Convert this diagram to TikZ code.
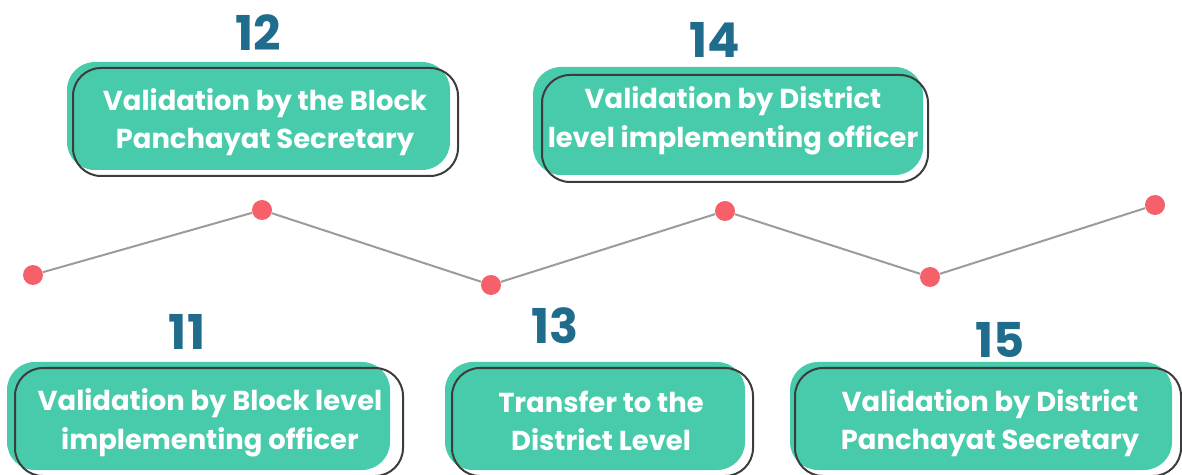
\documentclass[tikz,border=0pt]{standalone}
\usepackage{fontspec}
\setmainfont{Poppins}
\definecolor{teal}{RGB}{72,203,170}
\definecolor{numblue}{RGB}{31,108,140}
\definecolor{dotred}{RGB}{245,96,106}
\definecolor{outl}{RGB}{60,60,60}
\definecolor{linegray}{RGB}{155,155,155}
\begin{document}
\begin{tikzpicture}[x=0.5pt,y=-0.5pt,
  fillbox/.style={fill=teal,rounded corners=14pt},
  outbox/.style={draw=outl,line width=1pt,rounded corners=14pt},
  boxtext/.style={text=white,font=\bfseries\fontsize{13.7}{19.3}\selectfont,align=center,inner sep=0pt},
  num/.style={text=numblue,font=\bfseries\fontsize{24}{24}\selectfont,inner sep=0pt},
  dot/.style={circle,fill=dotred,minimum size=10pt,inner sep=0pt},
  conn/.style={draw=linegray,line width=1pt}]
\useasboundingbox (0,0) rectangle (1182,475);
% boxes
\path[fillbox] (67,62) rectangle (450,170);
\path[outbox] (73,68) rectangle (458,176);
\node[boxtext] (t12) at (265,122) {Validation by the Block\\Panchayat Secretary};
\node[num] (n12) at (258,33) {12};

\path[fillbox] (533,67) rectangle (923,175);
\path[outbox] (542,75) rectangle (928,182);
\node[boxtext] (t14) at (733,121) {Validation by District\\level implementing officer};
\node[num] (n14) at (715,40) {14};

\path[fillbox] (7,362) rectangle (390,470);
\path[outbox] (15,368) rectangle (403,476);
\node[boxtext] (t11) at (210,423) {Validation by Block level\\implementing officer};
\node[num] (n11) at (187,332) {11};

\path[fillbox] (445,362) rectangle (745,470);
\path[outbox] (452,368) rectangle (753,476);
\node[boxtext] (t13) at (601,421) {Transfer to the\\District Level};
\node[num] (n13) at (555,326) {13};

\path[fillbox] (790,362) rectangle (1172,470);
\path[outbox] (795,368) rectangle (1181,476);
\node[boxtext] (t15) at (990,423) {Validation by District\\Panchayat Secretary};
\node[num] (n15) at (1000,340) {15};

% timeline
\node[dot] (d1) at (33,275) {};
\node[dot] (d2) at (262,210) {};
\node[dot] (d3) at (491,285) {};
\node[dot] (d4) at (725,211) {};
\node[dot] (d5) at (930,277) {};
\node[dot] (d6) at (1155,205) {};
\draw[conn] (d1) -- (d2) -- (d3) -- (d4) -- (d5) -- (d6);
\end{tikzpicture}
\end{document}
